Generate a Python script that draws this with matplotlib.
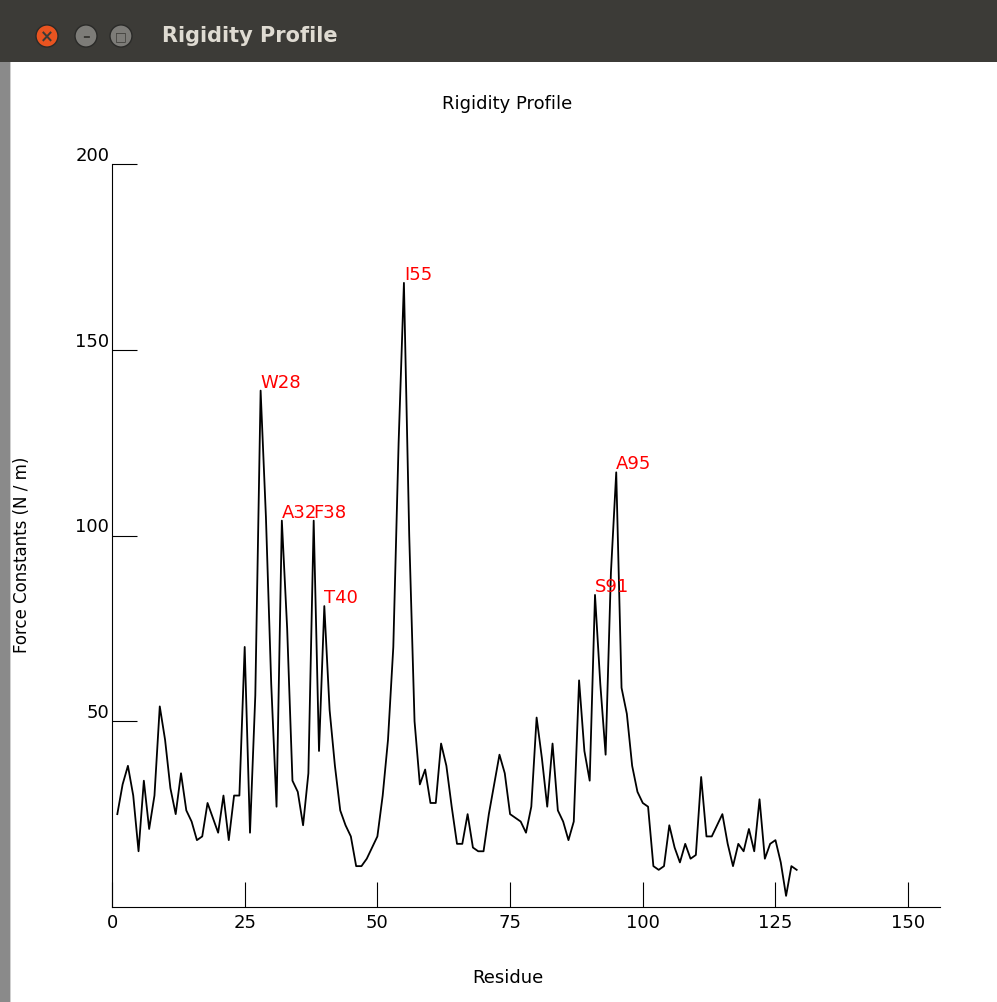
import matplotlib
matplotlib.use("Agg")
import matplotlib.pyplot as plt
from matplotlib.patches import Rectangle, Circle

residues = list(range(1, 130))
force = [25, 33, 38, 30, 15, 34, 21, 30, 54, 45, 32, 25, 36, 26, 23, 18, 19, 28, 24, 20,
         30, 18, 30, 30, 70, 20, 57, 139, 105, 60, 27, 104, 75, 34, 31, 22, 36, 104, 42, 81,
         53, 38, 26, 22, 19, 11, 11, 13, 16, 19, 30, 45, 70, 125, 168, 100, 50, 33, 37, 28,
         28, 44, 38, 27, 17, 17, 25, 16, 15, 15, 25, 33, 41, 36, 25, 24, 23, 20, 27, 51,
         40, 27, 44, 26, 23, 18, 23, 61, 42, 34, 84, 60, 41, 90, 117, 59, 52, 38, 31, 28,
         27, 11, 10, 11, 22, 16, 12, 17, 13, 14, 35, 19, 19, 22, 25, 17, 11, 17, 15, 21,
         15, 29, 13, 17, 18, 12, 3, 11, 10]
peak_labels = ["W28", "A32", "F38", "T40", "I55", "S91", "A95"]
peak_res = [28, 32, 38, 40, 55, 91, 95]

fig = plt.figure(figsize=(9.97, 10.03), dpi=100)
fig.patch.set_facecolor("white")
fig.add_artist(Rectangle((0, 1 - 63/1003), 1, 63/1003, transform=fig.transFigure,
                         facecolor="#3c3b37", edgecolor="none"))
fig.add_artist(Rectangle((0, 0), 10/997, 1 - 63/1003, transform=fig.transFigure,
                         facecolor="#8a8a8a", edgecolor="none"))
fig.add_artist(Rectangle((10/997, 0), 1/997, 1 - 63/1003, transform=fig.transFigure,
                         facecolor="#cfcfcf", edgecolor="none"))
for cx, col in [(47, "#e95420"), (86, "#7d7c78"), (121, "#7d7c78")]:
    fig.add_artist(Circle((cx/997, 1 - 37/1003), 11/997, transform=fig.transFigure,
                          facecolor=col, edgecolor="#2a2a28"))
fig.text(47/997, 1 - 37/1003, "×", color="#3c3b37", ha="center", va="center", fontsize=12, weight="bold")
fig.text(86/997, 1 - 37/1003, "–", color="#3c3b37", ha="center", va="center", fontsize=11, weight="bold")
fig.text(121/997, 1 - 37/1003, "□", color="#3c3b37", ha="center", va="center", fontsize=9)
fig.text(162/997, 1 - 36/1003, "Rigidity Profile", color="#dfdbd2", ha="left", va="center",
         fontsize=15, weight="bold")

ax = fig.add_axes([112/997, 1 - 908/1003, (940 - 112)/997, (908 - 165)/1003])
ax.plot(residues, force, color="black", lw=1.3)
ax.set_xlim(0, 156)
ax.set_ylim(0, 200)
ax.set_xticks([0, 25, 50, 75, 100, 125, 150])
ax.set_yticks([50, 100, 150, 200])
for s in ["top", "right"]:
    ax.spines[s].set_visible(False)
ax.tick_params(axis="x", direction="in", length=18, labelsize=13, pad=4)
ax.tick_params(axis="y", direction="in", length=18, labelsize=13, pad=2)
for lab in ax.get_yticklabels():
    lab.set_verticalalignment("bottom")
fig.text(508/997, 1 - 978/1003, "Residue", fontsize=13, ha="center", va="center")
fig.text(22/997, 1 - 555/1003, "Force Constants (N / m)", fontsize=12, ha="center", va="center",
         rotation=90)
fig.text(507/997, 1 - 104/1003, "Rigidity Profile", fontsize=13, ha="center", va="center")
for lab, r in zip(peak_labels, peak_res):
    ax.text(r, force[r - 1], lab, color="red", fontsize=13, ha="left", va="bottom")
fig.savefig("out.png", dpi=100)
